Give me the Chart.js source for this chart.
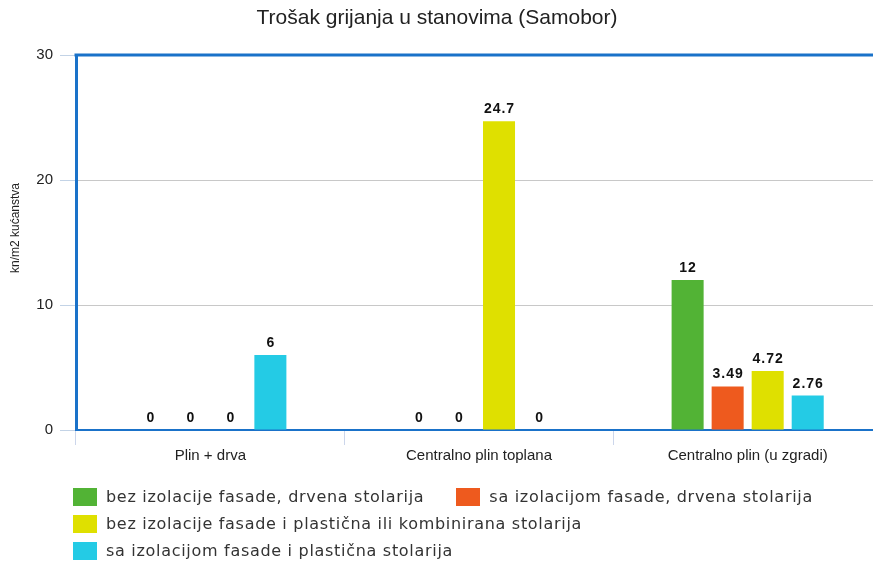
<!DOCTYPE html>
<html>
<head>
<meta charset="utf-8">
<script src="https://cdn.jsdelivr.net/npm/chart.js@4/dist/chart.umd.min.js"></script>
<style>
  html, body { margin: 0; padding: 0; background: #fff; overflow: hidden; }
  #wrap { position: relative; width: 873px; height: 564px; overflow: hidden; }
  canvas { position: absolute; left: 0; top: 0; }
  #legend { position: absolute; left: 73px; top: 483px; width: 800px; font-family: "DejaVu Sans", sans-serif; font-size: 16px; letter-spacing: 0.7px; color: #333; }
  .row { display: flex; height: 27px; align-items: center; }
  .item { display: flex; align-items: center; margin-right: 32px; white-space: nowrap; }
  .box { width: 24px; height: 18px; margin-right: 9px; }
</style>
</head>
<body>
<div id="wrap">
  <canvas id="c" width="882" height="564"></canvas>
  <div id="legend"></div>
</div>
<script>
const title = "Trošak grijanja u stanovima (Samobor)";
const yTitle = "kn/m2 kućanstva";
const categories = ["Plin + drva", "Centralno plin toplana", "Centralno plin (u zgradi)"];
const seriesNames = [
  "bez izolacije fasade, drvena stolarija",
  "sa izolacijom fasade, drvena stolarija",
  "bez izolacije fasade i plastična ili kombinirana stolarija",
  "sa izolacijom fasade i plastična stolarija"
];
const bezDrvena = [0, 0, 12];
const saDrvena = [0, 0, 3.49];
const bezPlasticna = [0, 24.7, 4.72];
const saPlasticna = [6, 0, 2.76];
const colors = ["#52b335", "#ee5a1e", "#dfe000", "#24cbe5"];
const yTicks = [0, 10, 20, 30];

const seriesValues = [bezDrvena, saDrvena, bezPlasticna, saPlasticna];
const legendRows = [[0, 1], [2], [3]];

const blue = "#1a72c9";

const decor = {
  id: "decor",
  afterDraw(chart) {
    const ctx = chart.ctx;
    const a = chart.chartArea;
    ctx.save();
    // title
    ctx.fillStyle = "#222";
    ctx.font = "21px 'Liberation Sans', Arial, sans-serif";
    ctx.textAlign = "center";
    ctx.textBaseline = "middle";
    ctx.fillText(title, 437, 18);
    // y axis title
    ctx.save();
    ctx.translate(16, 228);
    ctx.rotate(-Math.PI / 2);
    ctx.font = "12px 'Liberation Sans', Arial, sans-serif";
    ctx.fillStyle = "#222";
    ctx.fillText(yTitle, 0, 0);
    ctx.restore();
    // top border
    ctx.strokeStyle = blue;
    ctx.lineWidth = 3;
    ctx.beginPath();
    ctx.moveTo(a.left - 1.5, a.top);
    ctx.lineTo(a.right + 5, a.top);
    ctx.stroke();
    // data labels
    ctx.font = "bold 14px 'Liberation Sans', Arial, sans-serif";
    ctx.fillStyle = "#111";
    ctx.textAlign = "center";
    ctx.textBaseline = "alphabetic";
    try { ctx.letterSpacing = "1px"; } catch (e) {}
    chart.data.datasets.forEach((ds, di) => {
      const meta = chart.getDatasetMeta(di);
      meta.data.forEach((bar, i) => {
        ctx.fillText(String(ds.data[i]), bar.x + 0.5, bar.y - 8);
      });
    });
    ctx.restore();
  }
};

new Chart(document.getElementById("c"), {
  type: "bar",
  data: {
    labels: categories,
    datasets: seriesNames.map((n, i) => ({
      label: n,
      data: seriesValues[i],
      backgroundColor: colors[i],
      borderWidth: 0,
      categoryPercentage: 0.596,
      barPercentage: 0.8
    }))
  },
  options: {
    responsive: false,
    animation: false,
    devicePixelRatio: 1,
    layout: { padding: { top: 55, left: 0, right: 0, bottom: 0 } },
    plugins: { legend: { display: false }, title: { display: false }, tooltip: { enabled: false } },
    scales: {
      x: {
        afterFit(s) { s.height = 134; },
        grid: { offset: true, drawOnChartArea: false, drawTicks: true, tickLength: 15, tickColor: "#ccd6eb", tickWidth: 1 },
        border: { display: true, color: blue, width: 2 },
        ticks: { padding: 2, color: "#222", font: { family: "'Liberation Sans', Arial, sans-serif", size: 15 } }
      },
      y: {
        min: 0, max: 30,
        afterFit(s) { s.width = 76; },
        afterBuildTicks(s) { s.ticks = yTicks.map(v => ({ value: v })); },
        grid: { color: (c) => (c.tick && (c.tick.value === 0 || c.tick.value === 30)) ? "rgba(0,0,0,0)" : "#c8c8c8", tickColor: "#c3d3e6", tickLength: 16, lineWidth: 1 },
        border: { display: true, color: blue, width: 3 },
        ticks: { padding: 7, color: "#222", font: { family: "'Liberation Sans', Arial, sans-serif", size: 15 } }
      }
    }
  },
  plugins: [decor]
});

const lg = document.getElementById("legend");
legendRows.forEach(r => {
  const row = document.createElement("div");
  row.className = "row";
  r.forEach(i => {
    const it = document.createElement("div");
    it.className = "item";
    const b = document.createElement("div");
    b.className = "box";
    b.style.background = colors[i];
    const t = document.createElement("span");
    t.textContent = seriesNames[i];
    it.appendChild(b); it.appendChild(t);
    row.appendChild(it);
  });
  lg.appendChild(row);
});
</script>
</body>
</html>
